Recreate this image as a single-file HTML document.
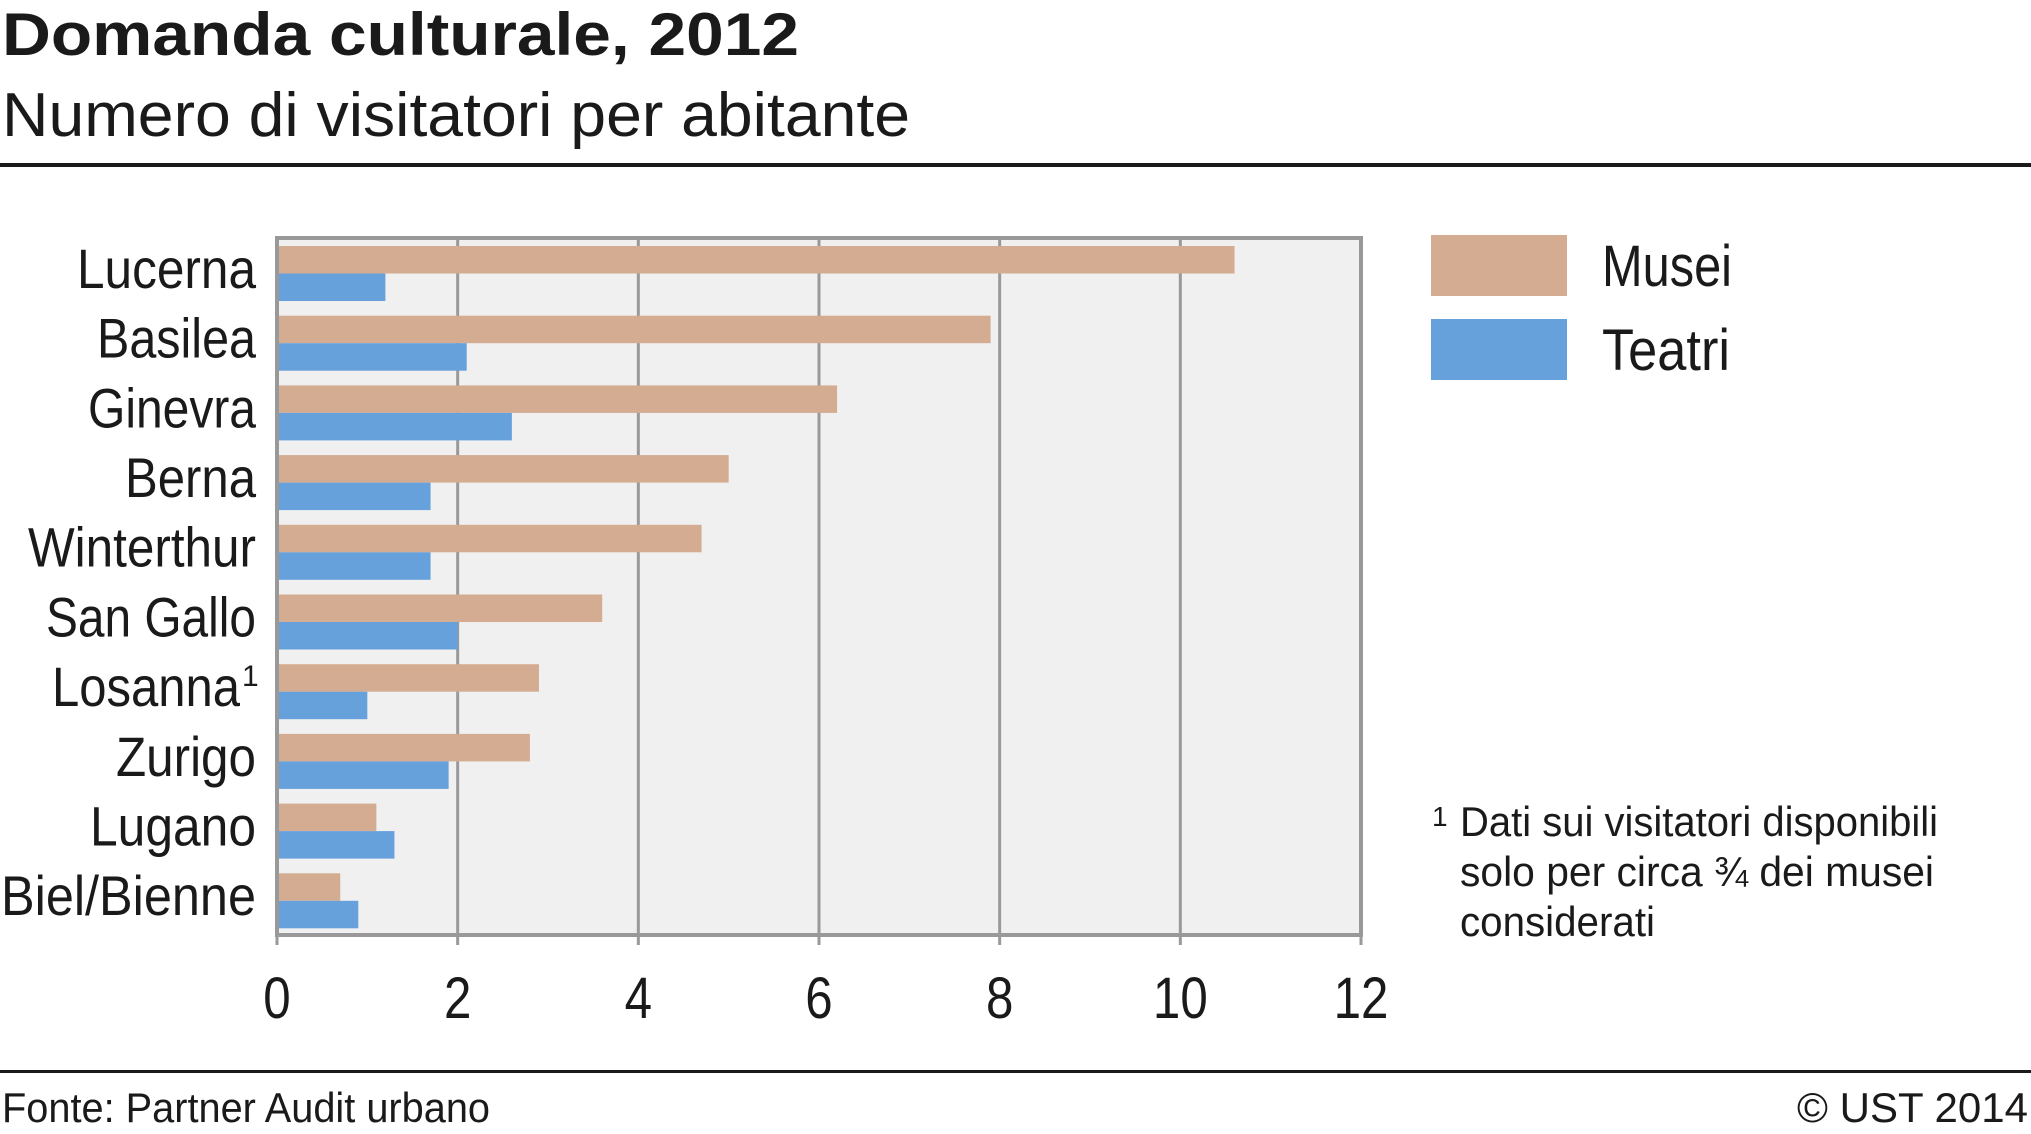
<!DOCTYPE html>
<html><head><meta charset="utf-8"><style>
html,body{margin:0;padding:0;background:#fff;}
svg{display:block;font-family:"Liberation Sans Narrow","Liberation Sans",sans-serif;}
</style></head><body>
<svg id="chart" width="2031" height="1134" viewBox="0 0 2031 1134" xmlns="http://www.w3.org/2000/svg">
<text x="2" y="55" font-size="60" font-weight="bold" fill="#1a1a1a" textLength="797" lengthAdjust="spacingAndGlyphs">Domanda culturale, 2012</text>
<text x="2" y="136" font-size="62" fill="#1a1a1a" textLength="908" lengthAdjust="spacingAndGlyphs">Numero di visitatori per abitante</text>
<rect x="0" y="163" width="2031" height="4" fill="#1a1a1a"/>
<g id="plot"></g>
<g>
<rect x="1431" y="235" width="136" height="61" fill="#d4ac92"/>
<text x="1602" y="286" font-size="58" fill="#1a1a1a" textLength="130" lengthAdjust="spacingAndGlyphs">Musei</text>
<rect x="1431" y="319" width="136" height="61" fill="#67a1dc"/>
<text x="1602" y="370" font-size="58" fill="#1a1a1a" textLength="128" lengthAdjust="spacingAndGlyphs">Teatri</text>
</g>
<g font-size="42" fill="#1a1a1a">
<text x="1432" y="826" font-size="28">1</text>
<text x="1460" y="836" textLength="478" lengthAdjust="spacingAndGlyphs">Dati sui visitatori disponibili</text>
<text x="1460" y="886" textLength="474" lengthAdjust="spacingAndGlyphs">solo per circa ¾ dei musei</text>
<text x="1460" y="936" textLength="195" lengthAdjust="spacingAndGlyphs">considerati</text>
</g>
<rect x="0" y="1070" width="2031" height="3" fill="#1a1a1a"/>
<text x="2" y="1122" font-size="42" fill="#1a1a1a" textLength="488" lengthAdjust="spacingAndGlyphs">Fonte: Partner Audit urbano</text>
<text x="2028" y="1122" font-size="42" fill="#1a1a1a" text-anchor="end">© UST 2014</text>
</svg>
<script>
const categories = ["Lucerna","Basilea","Ginevra","Berna","Winterthur","San Gallo","Losanna","Zurigo","Lugano","Biel/Bienne"];
const musei = [10.6,7.9,6.2,5.0,4.7,3.6,2.9,2.8,1.1,0.7];
const teatri = [1.2,2.1,2.6,1.7,1.7,2.0,1.0,1.9,1.3,0.9];
const xTicks = [0,2,4,6,8,10,12];
const labelWidths = [179,159,168,131,228,210,188,140,166,255];

const NS = "http://www.w3.org/2000/svg";
const plot = document.getElementById("plot");
const L = 277, R = 1361, T = 238, B = 935, XMAX = 12;
const x = v => L + (v / XMAX) * (R - L);
const band = (B - T) / categories.length;
const y = i => T + i * band;
function mk(tag, attrs){ const e = document.createElementNS(NS, tag); for (const k in attrs) e.setAttribute(k, attrs[k]); plot.appendChild(e); return e; }

const bg = mk("rect",{x:L,y:T,width:R-L,height:B-T,fill:"#f0f0f0"});



xTicks.forEach(t => {
  if (t > 0 && t < XMAX) {
    const g = mk("line",{x1:x(t),x2:x(t),y1:T,y2:B,stroke:"#999","stroke-width":3});
    
    
  }
  const tk = mk("line",{x1:x(t),x2:x(t),y1:B,y2:B+10,stroke:"#999","stroke-width":3});
  
  
  const lb = mk("text",{x:0,y:0,"font-size":58,"text-anchor":"middle",fill:"#1a1a1a",transform:"translate(" + x(t) + ",1018) scale(0.85,1)"});
  lb.textContent = t;
  
  
});

const bh = 27.5;
categories.forEach((c, i) => {
  const top = y(i) + 8;
  const m = mk("rect",{x:L,y:top,width:x(musei[i])-L,height:bh,fill:"#d4ac92"});
  
  
  const t = mk("rect",{x:L,y:top+bh,width:x(teatri[i])-L,height:bh,fill:"#67a1dc"});
  
  
  const base = y(i) + band/2 + 15;
  const isLos = c === "Losanna";
  const right = isLos ? 240 : 256;
  const lab = mk("text",{x:right - labelWidths[i],y:base,"font-size":56,fill:"#1a1a1a",textLength:labelWidths[i],lengthAdjust:"spacingAndGlyphs"});
  lab.textContent = c;
  
  
  if (isLos) {
    const s = mk("text",{x:242,y:base-20,"font-size":30,fill:"#1a1a1a"});
    s.textContent = "1";
    
    
  }
});

const border = mk("rect",{x:L,y:T,width:R-L,height:B-T,fill:"none",stroke:"#999","stroke-width":4});


</script>
</body></html>
